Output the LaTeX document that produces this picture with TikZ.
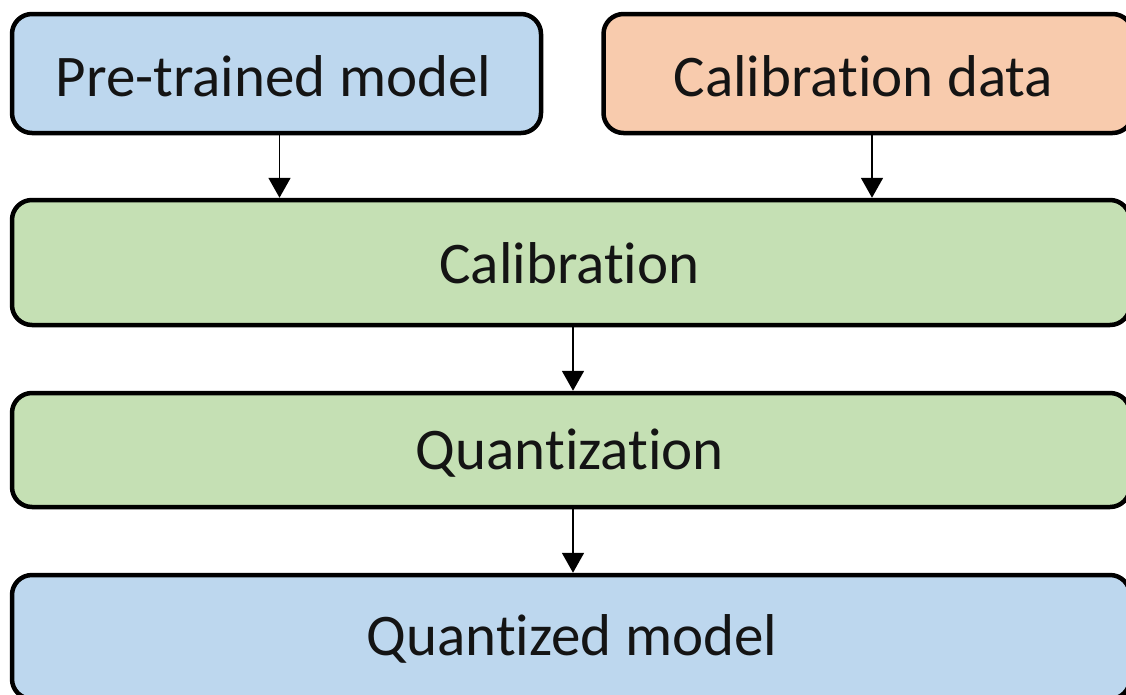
\documentclass[tikz,border=0pt]{standalone}
\usepackage{fontspec}
\setmainfont{Carlito}[RawFeature={-liga;-clig;-calt;-dlig;-hlig;-rlig;-ccmp}]
\usetikzlibrary{arrows.meta}
\definecolor{boxblue}{HTML}{BDD7EE}
\definecolor{boxorange}{HTML}{F8CBAD}
\definecolor{boxgreen}{HTML}{C5E0B4}
\tikzset{
  box/.style={draw=black, line width=4.5pt, rounded corners=20pt, inner sep=0pt},
  lbl/.style={anchor=base, inner sep=0pt, font=\fontsize{59}{64}\selectfont, text=black!92},
  arr/.style={line width=1.8pt, -{Triangle[width=22pt,length=20pt]}},
}
\begin{document}
\begin{tikzpicture}[x=1pt,y=1pt]
\useasboundingbox (0,0) rectangle (1126,-694);
\node[box, fill=boxblue, minimum width=529pt, minimum height=119pt] (pre) at (276.5,-73.5) {};
\node[box, fill=boxorange, minimum width=529pt, minimum height=119pt] (data) at (868,-73.5) {};
\node[box, fill=boxgreen, minimum width=1118pt, minimum height=125pt] (cal) at (571,-262.5) {};
\node[box, fill=boxgreen, minimum width=1118pt, minimum height=114pt] (quant) at (571,-450) {};
\node[box, fill=boxblue, minimum width=1118pt, minimum height=124pt] (qm) at (571,-637) {};
\node[lbl] (pret) at (273.5,-96) {Pre-trained model};
\node[lbl] (datat) at (863.5,-96) {Calibration data};
\node[lbl] (calt) at (569.5,-283) {Calibration};
\node[lbl] (quantt) at (570,-469) {Quantization};
\node[lbl] (qmt) at (572,-655) {Quantized model};
\draw[arr] ([xshift=3pt]pre.south) -- ([xshift=3pt]pre.south |- cal.north);
\draw[arr] ([xshift=4pt]data.south) -- ([xshift=4pt]data.south |- cal.north);
\draw[arr] ([xshift=2pt]cal.south) -- ([xshift=2pt]quant.north);
\draw[arr] ([xshift=2pt]quant.south) -- ([xshift=2pt]qm.north);
\end{tikzpicture}
\end{document}
